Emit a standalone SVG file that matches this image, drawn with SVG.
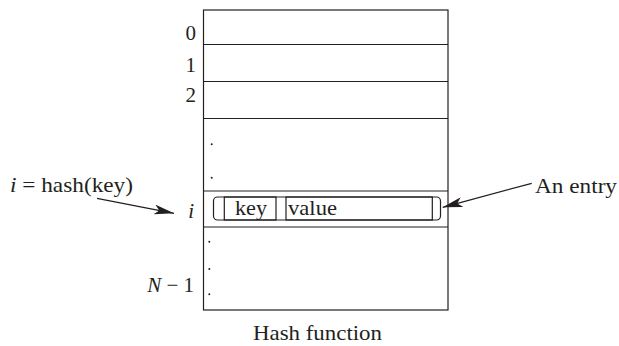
<svg xmlns="http://www.w3.org/2000/svg" width="619" height="346" viewBox="0 0 619 346">
<defs>
<style>
.ln{fill:none;stroke:#231f20;stroke-width:1.2}
.t{font-family:"Liberation Serif",serif;font-size:21px;fill:#231f20}
.lb{font-size:22px}
.it{font-style:italic}
.dot{fill:#231f20}
</style>
<marker id="ah" viewBox="0 0 20 10" refX="20" refY="5" markerWidth="20" markerHeight="10" markerUnits="userSpaceOnUse" orient="auto">
<path d="M0,0 L20,5 L0,10 L5,5 Z" fill="#231f20"/>
</marker>
</defs>
<g id="table">
<rect class="ln" x="203.5" y="10" width="244.5" height="300"/>
<line class="ln" x1="203.5" y1="44.5" x2="448" y2="44.5"/>
<line class="ln" x1="203.5" y1="81.5" x2="448" y2="81.5"/>
<line class="ln" x1="203.5" y1="118.5" x2="448" y2="118.5"/>
<line class="ln" x1="203.5" y1="191" x2="448" y2="191"/>
<line class="ln" x1="203.5" y1="227" x2="448" y2="227"/>
<circle class="dot" cx="211.7" cy="144.3" r="1"/>
<circle class="dot" cx="211.7" cy="177.7" r="1"/>
<circle class="dot" cx="209.3" cy="241.7" r="1"/>
<circle class="dot" cx="209.3" cy="269" r="1"/>
<circle class="dot" cx="209.3" cy="294.3" r="1"/>
<text class="t" x="196" y="40" text-anchor="end">0</text>
<text class="t" x="196" y="72" text-anchor="end">1</text>
<text class="t" x="196" y="102" text-anchor="end">2</text>
<text class="t it" x="194" y="218" text-anchor="end">i</text>
<text class="t" x="194" y="292" text-anchor="end"><tspan class="it">N</tspan> − 1</text>
</g>
<g id="entry">
<rect class="ln" x="213.5" y="197" width="227" height="23" rx="4"/>
<rect class="ln" x="224.3" y="197" width="51.7" height="23"/>
<rect class="ln" x="286" y="197" width="146.3" height="23"/>
<text class="t lb" x="235" y="215" textLength="32" lengthAdjust="spacingAndGlyphs">key</text>
<text class="t lb" x="288" y="215" textLength="49" lengthAdjust="spacingAndGlyphs">value</text>
</g>
<g id="labels">
<text class="t lb" x="10" y="192" textLength="123" lengthAdjust="spacingAndGlyphs"><tspan class="it">i</tspan> = hash(key)</text>
<text class="t lb" x="535" y="193" textLength="82" lengthAdjust="spacingAndGlyphs">An entry</text>
<text class="t lb" x="253" y="340" textLength="129" lengthAdjust="spacingAndGlyphs">Hash function</text>
</g>
<g id="connectors">
<line class="ln" x1="97" y1="198.3" x2="174" y2="213.3" marker-end="url(#ah)"/>
<line class="ln" x1="531.7" y1="183.3" x2="442.7" y2="207.3" marker-end="url(#ah)"/>
</g>
</svg>
